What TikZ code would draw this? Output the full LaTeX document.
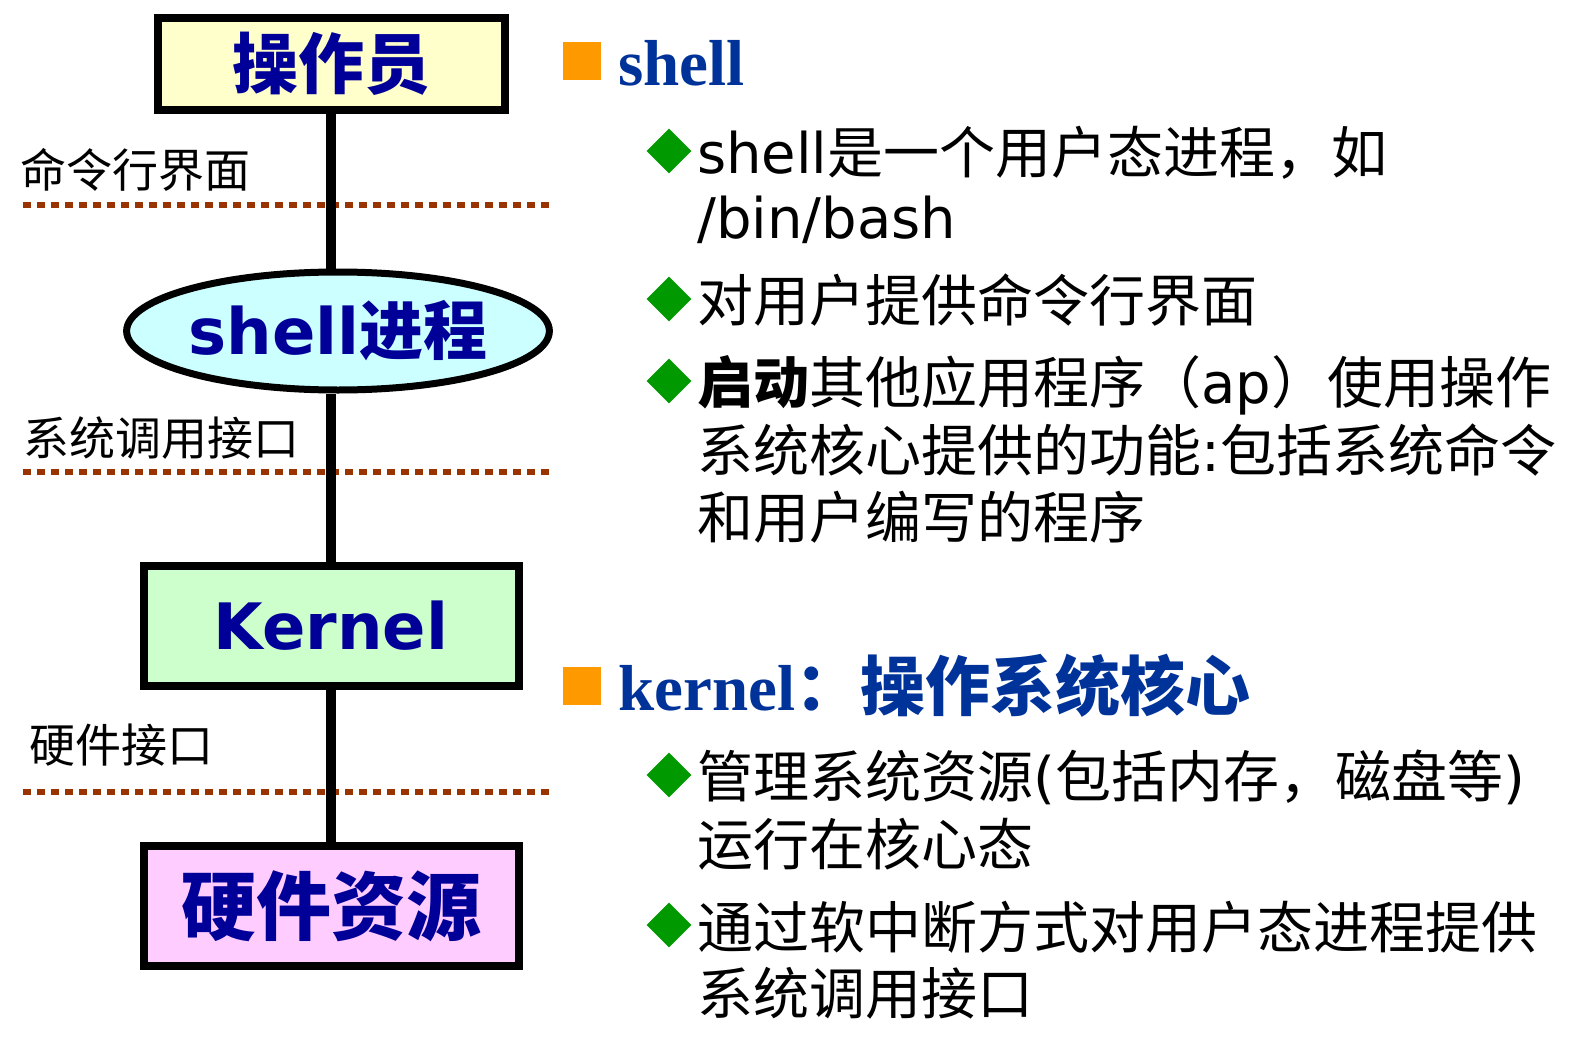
\documentclass[tikz,border=0pt]{standalone}
\usepackage{fontspec}
\setmainfont{Noto Sans CJK SC}
\newfontfamily\enfont{DejaVu Sans}
\newfontfamily\headfont{Liberation Serif}
\usepackage{xcolor}
\usetikzlibrary{positioning,shapes.geometric}
\definecolor{OpYellow}   {RGB}{255,255,204}
\definecolor{ShellCyan}  {RGB}{204,255,255}
\definecolor{KernelGreen}{RGB}{204,255,204}
\definecolor{HwPink}     {RGB}{255,204,255}
\definecolor{BoxBlue}    {RGB}{  0,  0,153}
\definecolor{HeadBlue}   {RGB}{  0, 51,153}
\definecolor{SepBrown}   {RGB}{153, 51,  0}
\definecolor{MarkOrange} {RGB}{255,153,  0}
\definecolor{MarkGreen}  {RGB}{  0,153,  0}

\tikzset{
  layerbox/.style={draw=black, line width=8pt, inner sep=0pt,
    minimum width=375pt, minimum height=120pt, text=BoxBlue},
  stem/.style={draw=black, line width=10pt},
  sepline/.style={draw=SepBrown, line width=5.5pt, dash pattern=on 8pt off 6pt},
  layerlabel/.style={anchor=west, inner sep=0pt, font=\fontsize{46}{50}\selectfont},
  headmark/.style={fill=MarkOrange, inner sep=0pt, minimum size=38pt},
  headtext/.style={anchor=base west, inner sep=0pt, text=HeadBlue,
    font=\fontsize{65}{70}\selectfont\bfseries},
  itemmark/.style={diamond, fill=MarkGreen, inner sep=0pt,
    minimum width=45pt, minimum height=45pt},
  itemtext/.style={anchor=base west, inner sep=0pt, font=\fontsize{56}{60}\selectfont}
}

\begin{document}
\begin{tikzpicture}[x=1pt, y=-1pt]
  \fill[white] (0,0) rectangle (1585,1041);
  \useasboundingbox (0,0) rectangle (1585,1041);

  % Interface separators
  \draw[sepline] (23,205) -- (553,205);
  \draw[sepline] (23,472) -- (553,472);
  \draw[sepline] (23,792) -- (553,792);
  \node[layerlabel] (cli) at (20,170) {命令行界面};
  \node[layerlabel] (sci) at (23,438) {系统调用接口};
  \node[layerlabel] (hwi) at (29,745) {硬件接口};

  % Layer stack
  \node[layerbox, fill=OpYellow, minimum width=347pt, minimum height=92pt,
        font=\fontsize{66}{70}\selectfont\bfseries]
    (op) at (331,64) {操作员};
  \node[ellipse, draw=black, line width=7pt, fill=ShellCyan, inner sep=0pt,
        minimum width=414pt, minimum height=118pt, text=BoxBlue,
        font=\fontsize{64}{70}\selectfont\bfseries]
    (sh) at (338,331) {{\enfont shell}进程};
  \node[layerbox, fill=KernelGreen, font=\fontsize{64}{70}\selectfont\bfseries]
    (kn) at (331,626) {\enfont Kernel};
  \node[layerbox, fill=HwPink, font=\fontsize{75}{80}\selectfont\bfseries]
    (hw) at (331,906) {硬件资源};

  \draw[stem] (op.south) -- (op.south |- sh.north);
  \draw[stem] (sh.south -| kn.north) -- (kn.north);
  \draw[stem] (kn.south) -- (hw.north);

  % shell
  \node[headmark] (hm1) at (582,61) {};
  \node[headtext] (h1) at (618,85) {{\headfont shell}};
  \node[itemmark] (m1) at (669,151) {};
  \node[itemtext] (s1a) at (697,173) {{\enfont shell}是一个用户态进程，如};
  \node[itemtext] (s1b) at (697,238) {{\enfont /bin/bash}};
  \node[itemmark] (m2) at (669,299) {};
  \node[itemtext] (s2a) at (697,321) {对用户提供命令行界面};
  \node[itemmark] (m3) at (669,381) {};
  \node[itemtext] (s3a) at (697,403) {{\bfseries 启动}其他应用程序（{\enfont ap}）使用操作};
  \node[itemtext] (s3b) at (697,471) {系统核心提供的功能{\enfont :}包括系统命令};
  \node[itemtext] (s3c) at (697,538) {和用户编写的程序};

  % kernel
  \node[headmark] (hm2) at (582,686) {};
  \node[headtext] (h2) at (618,710) {{\headfont kernel}：操作系统核心};
  \node[itemmark] (m4) at (669,775) {};
  \node[itemtext] (k1a) at (697,797) {管理系统资源{\enfont (}包括内存，磁盘等{\enfont )}};
  \node[itemtext] (k1b) at (697,865) {运行在核心态};
  \node[itemmark] (m5) at (669,925) {};
  \node[itemtext] (k2a) at (697,948) {通过软中断方式对用户态进程提供};
  \node[itemtext] (k2b) at (697,1014) {系统调用接口};
\end{tikzpicture}
\end{document}
